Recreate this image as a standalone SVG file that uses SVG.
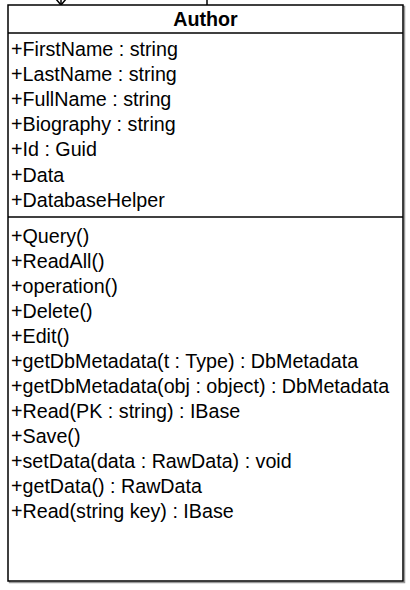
<svg xmlns="http://www.w3.org/2000/svg" width="410" height="590" viewBox="0 0 410 590">
<style>
.t{font-family:"Liberation Sans",Arial,sans-serif;font-size:19.7px;fill:#000}
.h{font-family:"Liberation Sans",Arial,sans-serif;font-size:19.7px;font-weight:bold;fill:#000}
.ln{stroke:#000;stroke-width:1.5;fill:none}
</style>
<rect width="410" height="590" fill="#fff"/>
<g id="connectors">
<line class="ln" x1="61" y1="0" x2="61" y2="5"/>
<path class="ln" d="M56 -1 L61 5 L66 -1"/>
<line class="ln" x1="207" y1="0" x2="207" y2="5"/>
</g>
<g id="Author">
<rect x="9.5" y="6.5" width="395" height="576" fill="none" stroke="#999" stroke-width="1.5"/>
<rect x="8" y="5" width="395" height="576" fill="#fff" stroke="#000" stroke-width="1.5"/>
<line class="ln" x1="8" y1="33" x2="403" y2="33"/>
<line class="ln" x1="8" y1="217" x2="403" y2="217"/>
<text class="h" x="205.5" y="25.5" text-anchor="middle">Author</text>
<text class="t" x="11" y="55.5">+FirstName : string</text>
<text class="t" x="11" y="80.7">+LastName : string</text>
<text class="t" x="11" y="105.9">+FullName : string</text>
<text class="t" x="11" y="131.1">+Biography : string</text>
<text class="t" x="11" y="156.3">+Id : Guid</text>
<text class="t" x="11" y="181.5">+Data</text>
<text class="t" x="11" y="206.7">+DatabaseHelper</text>
<text class="t" x="11" y="242.5">+Query()</text>
<text class="t" x="11" y="267.5">+ReadAll()</text>
<text class="t" x="11" y="292.5">+operation()</text>
<text class="t" x="11" y="317.5">+Delete()</text>
<text class="t" x="11" y="342.5">+Edit()</text>
<text class="t" x="11" y="367.5">+getDbMetadata(t : Type) : DbMetadata</text>
<text class="t" x="11" y="392.5">+getDbMetadata(obj : object) : DbMetadata</text>
<text class="t" x="11" y="417.5">+Read(PK : string) : IBase</text>
<text class="t" x="11" y="442.5">+Save()</text>
<text class="t" x="11" y="467.5">+setData(data : RawData) : void</text>
<text class="t" x="11" y="492.5">+getData() : RawData</text>
<text class="t" x="11" y="517.5">+Read(string key) : IBase</text>
</g>
</svg>
